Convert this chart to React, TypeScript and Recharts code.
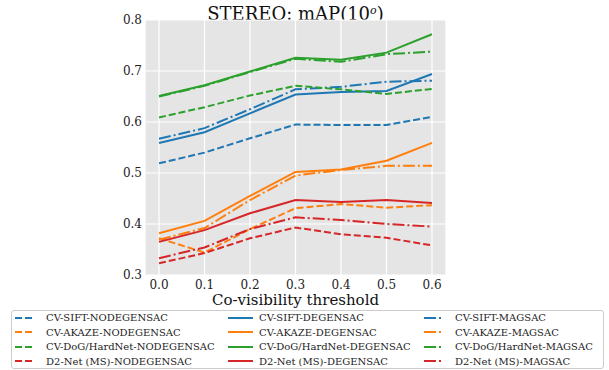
import React from "react";
import { LineChart, Line, XAxis, YAxis, CartesianGrid } from "recharts";

// co-visibility thresholds (x axis)
const thresholds = [0.0, 0.1, 0.2, 0.3, 0.4, 0.5, 0.6];
const yTicks = [0.3, 0.4, 0.5, 0.6, 0.7, 0.8];

const siftNodegensac = [0.519, 0.54, 0.568, 0.595, 0.594, 0.594, 0.61];
const siftDegensac = [0.559, 0.58, 0.617, 0.654, 0.659, 0.661, 0.694];
const siftMagsac = [0.567, 0.588, 0.625, 0.664, 0.669, 0.679, 0.681];
const akazeNodegensac = [0.372, 0.344, 0.39, 0.431, 0.439, 0.432, 0.437];
const akazeDegensac = [0.382, 0.406, 0.455, 0.502, 0.507, 0.524, 0.559];
const akazeMagsac = [0.369, 0.392, 0.447, 0.495, 0.506, 0.514, 0.514];
const dogNodegensac = [0.609, 0.629, 0.652, 0.671, 0.664, 0.655, 0.665];
const dogDegensac = [0.651, 0.672, 0.699, 0.726, 0.722, 0.736, 0.772];
const dogMagsac = [0.65, 0.671, 0.698, 0.724, 0.718, 0.733, 0.738];
const d2Nodegensac = [0.323, 0.343, 0.372, 0.393, 0.38, 0.373, 0.358];
const d2Degensac = [0.365, 0.388, 0.421, 0.447, 0.443, 0.447, 0.441];
const d2Magsac = [0.333, 0.354, 0.39, 0.413, 0.408, 0.4, 0.395];

const features = ["CV-SIFT", "CV-AKAZE", "CV-DoG/HardNet", "D2-Net (MS)"];
const methods = ["NODEGENSAC", "DEGENSAC", "MAGSAC"];
const colors = ["#1f77b4", "#ff7f0e", "#2ca02c", "#d62728"];
const dashes = ["7 3", undefined, "12 3 2 3"];

const values = [
  [siftNodegensac, siftDegensac, siftMagsac],
  [akazeNodegensac, akazeDegensac, akazeMagsac],
  [dogNodegensac, dogDegensac, dogMagsac],
  [d2Nodegensac, d2Degensac, d2Magsac],
];

const series = features.flatMap((f, i) =>
  methods.map((m, j) => ({
    key: `${f}-${m}`,
    color: colors[i],
    dash: dashes[j],
    row: i,
    col: j,
  }))
);

const data = thresholds.map((t, k) => {
  const row: Record<string, number> = { t };
  features.forEach((f, i) =>
    methods.forEach((m, j) => {
      row[`${f}-${m}`] = values[i][j][k];
    })
  );
  return row;
});

const FONT = "'DejaVu Serif', serif";
const legendCols = [15, 228, 424];
const sampleLen = [17, 25, 18];

export default function App() {
  return (
    <div style={{ position: "absolute", left: 0, top: 0, width: 609, height: 370, background: "#fff", fontFamily: FONT }}>
      <div
        style={{
          position: "absolute",
          left: 145,
          width: 301,
          top: 2,
          textAlign: "center",
          fontSize: 18,
          lineHeight: "18px",
          color: "#111",
          whiteSpace: "nowrap",
        }}
      >
        STEREO: mAP(10<sup style={{ fontSize: 11, fontStyle: "italic", verticalAlign: "6px" }}>o</sup>)
      </div>
      <LineChart
        width={609}
        height={370}
        data={data}
        margin={{ top: 20, right: 163, bottom: 65, left: 0 }}
      >
        <CartesianGrid fill="#e5e5e5" stroke="#ffffff" strokeWidth={1.2} />
        <XAxis
          dataKey="t"
          type="number"
          domain={[0, 0.6]}
          ticks={thresholds}
          tickFormatter={(v) => v.toFixed(1)}
          padding={{ left: 14, right: 14 }}
          axisLine={false}
          tickLine={false}
          tickSize={0}
          tickMargin={5}
          height={30}
          tick={{ fontSize: 12, fill: "#222", fontFamily: FONT }}
          label={{
            value: "Co-visibility threshold",
            position: "insideBottom",
            offset: 0,
            style: { fontSize: 15, fill: "#111", fontFamily: FONT },
          }}
        />
        <YAxis
          type="number"
          domain={[0.3, 0.8]}
          ticks={yTicks}
          tickFormatter={(v) => v.toFixed(1)}
          axisLine={false}
          tickLine={false}
          tickSize={0}
          tickMargin={3}
          width={145}
          tick={{ fontSize: 12, fill: "#222", fontFamily: FONT }}
        />
        {series.map((s) => (
          <Line
            key={s.key}
            dataKey={s.key}
            type="linear"
            stroke={s.color}
            strokeWidth={2}
            strokeDasharray={s.dash}
            dot={false}
            isAnimationActive={false}
          />
        ))}
      </LineChart>
      <div
        style={{
          position: "absolute",
          left: 11,
          top: 310,
          width: 593,
          height: 59,
          border: "1px solid #cccccc",
          borderRadius: 3,
          boxSizing: "border-box",
          background: "#fff",
        }}
      />
      {series.map((s) => (
        <div
          key={s.key}
          style={{
            position: "absolute",
            left: legendCols[s.col],
            top: 310 + 7.5 + s.row * 14.6 - 7,
            height: 14,
            display: "flex",
            alignItems: "center",
            fontSize: 10,
            color: "#222",
            whiteSpace: "nowrap",
          }}
        >
          <svg width={31} height={14} style={{ flex: "none" }}>
            <line
              x1={0}
              x2={sampleLen[s.col]}
              y1={7}
              y2={7}
              stroke={s.color}
              strokeWidth={2}
              strokeDasharray={s.dash}
            />
          </svg>
          <span>{s.key}</span>
        </div>
      ))}
    </div>
  );
}
